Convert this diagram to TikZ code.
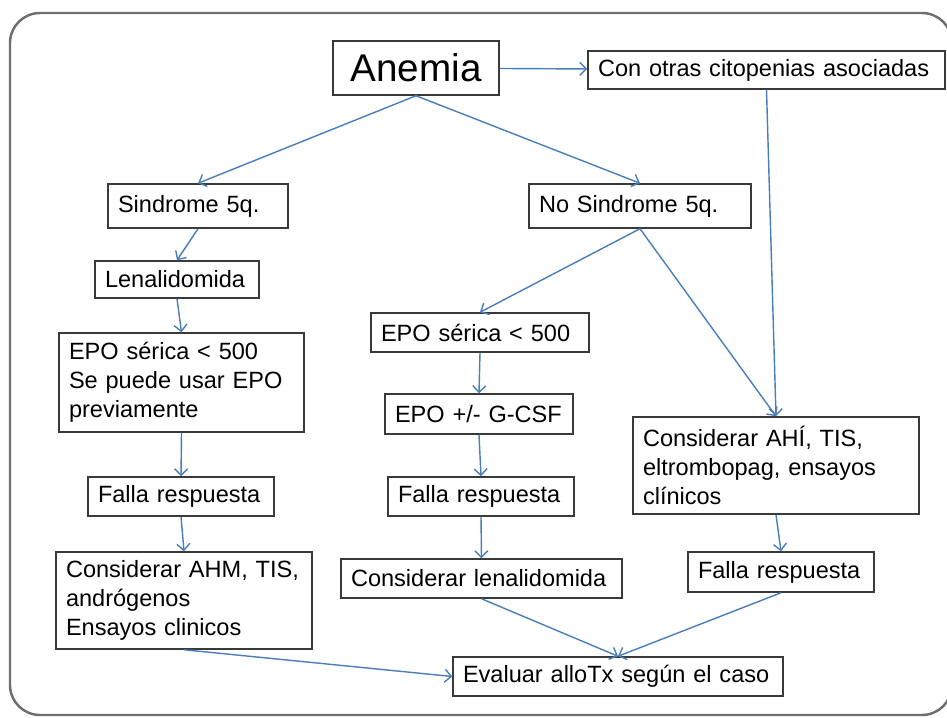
\documentclass[tikz,border=0pt]{standalone}
\usepackage{fontspec}
\setmainfont{Liberation Sans}
\usetikzlibrary{arrows.meta}
\definecolor{flecha}{HTML}{4A7EBB}
\definecolor{borde}{HTML}{3A3A3A}
\definecolor{marco}{HTML}{6E6E6E}

\begin{document}
\begin{tikzpicture}[
  caja/.style={draw=borde, line width=0.85pt, fill=white, align=left, inner xsep=0.2cm, inner ysep=0pt,
               font=\fontsize{13.4}{16.6}\selectfont},
  flujo/.style={draw=flecha, line width=0.8pt, -{Straight Barb[length=1.3mm,width=2.6mm]}}]

  \useasboundingbox (0,0) rectangle (18.94,14.34);

  % outer frame
  \draw[marco, line width=1.4pt, rounded corners=0.6cm] (0.2,0.04) rectangle (19.04,14.08);

  % top row
  \node[caja, align=center, text width=2.92cm, minimum height=1.08cm, font=\fontsize{22}{26}\selectfont] (anemia) at (8.32,12.98) {Anemia};
  \node[caja, text width=6.74cm, minimum height=0.76cm] (citop) at (15.33,12.94) {Con otras citopenias asociadas};

  % 5q branch
  \node[caja, text width=3.2cm, minimum height=0.88cm] (sind) at (3.96,10.22) {Sindrome 5q.};
  \node[caja, text width=2.88cm, minimum height=0.74cm] (lena) at (3.54,8.75) {Lenalidomida};
  \node[caja, text width=4.5cm, minimum height=1.98cm] (epoL) at (3.63,6.69) {EPO sérica < 500\\Se puede usar EPO\\previamente};
  \node[caja, text width=3.32cm, minimum height=0.78cm] (fallaL) at (3.62,4.41) {Falla respuesta};
  \node[caja, text width=4.72cm, minimum height=1.94cm] (ahm) at (3.68,2.33) {Considerar AHM, TIS,\\andrógenos\\Ensayos clinicos};

  % no 5q branch
  \node[caja, text width=4.04cm, minimum height=0.88cm] (nosind) at (12.8,10.22) {No Sindrome 5q.};
  \node[caja, text width=3.96cm, minimum height=0.78cm] (epoM) at (9.6,7.69) {EPO sérica < 500};
  \node[caja, text width=3.36cm, minimum height=0.8cm] (gcsf) at (9.58,6.06) {EPO +/- G-CSF};
  \node[caja, text width=3.32cm, minimum height=0.78cm] (fallaM) at (9.62,4.41) {Falla respuesta};
  \node[caja, text width=5.22cm, minimum height=0.78cm] (conslena) at (9.63,2.77) {Considerar lenalidomida};

  % other cytopenias
  \node[caja, text width=5.32cm, minimum height=1.94cm] (ahi) at (15.52,5.03) {Considerar AHÍ, TIS,\\eltrombopag, ensayos\\clínicos};
  \node[caja, text width=3.32cm, minimum height=0.8cm] (fallaR) at (15.62,2.9) {Falla respuesta};

  % final step
  \node[caja, text width=6.2cm, minimum height=0.78cm] (alotx) at (12.36,0.81) {Evaluar alloTx según el caso};

  % connectors
  \draw[flujo] (anemia) -- (citop);
  \draw[flujo] (anemia.south) -- (sind.north);
  \draw[flujo] (anemia.south) -- (nosind.north);
  \draw[flujo] (sind.south) -- (lena.north);
  \draw[flujo] (lena.south) -- (epoL.north);
  \draw[flujo] (epoL.south) -- (fallaL.north);
  \draw[flujo] (fallaL.south) -- (ahm.north);
  \draw[flujo] (ahm.south) -- (alotx.west);
  \draw[flujo] (nosind.south) -- (epoM.north);
  \draw[flujo] (nosind.south) -- (ahi.north);
  \draw[flujo] (citop.south) -- (ahi.north);
  \draw[flujo] (epoM.south) -- (gcsf.north);
  \draw[flujo] (gcsf.south) -- (fallaM.north);
  \draw[flujo] (fallaM.south) -- (conslena.north);
  \draw[flujo] (conslena.south) -- (alotx.north);
  \draw[flujo] (ahi.south) -- (fallaR.north);
  \draw[flujo] (fallaR.south) -- (alotx.north);

\end{tikzpicture}
\end{document}
